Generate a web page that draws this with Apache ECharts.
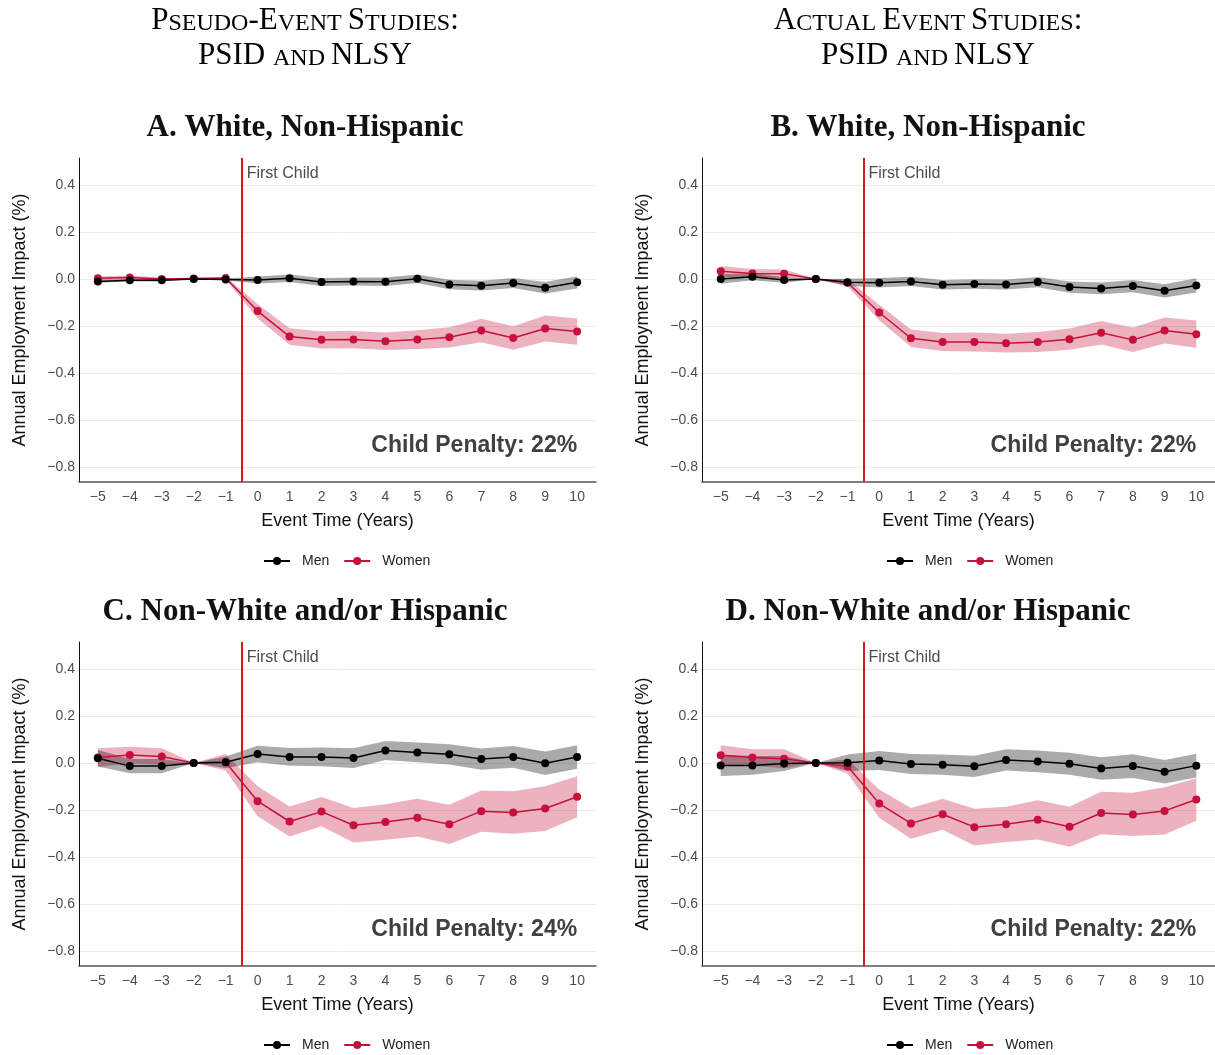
<!DOCTYPE html>
<html>
<head>
<meta charset="utf-8">
<script src="https://cdn.jsdelivr.net/npm/echarts@6/dist/echarts.min.js"></script>
<style>
html, body { margin: 0; padding: 0; background: #fff; }
#chart { width: 1215px; height: 1055px; }
</style>
</head>
<body>
<div id="chart"></div>
<script>
// event time and axis ticks
const eventTime = [-5, -4, -3, -2, -1, 0, 1, 2, 3, 4, 5, 6, 7, 8, 9, 10];
const yTicks = [-0.8, -0.6, -0.4, -0.2, 0, 0.2, 0.4];

// A. White, Non-Hispanic (pseudo)
const menA = [-0.010, -0.005, -0.005, 0.000, -0.002, -0.004, 0.003, -0.013, -0.010, -0.011, 0.001, -0.023, -0.028, -0.017, -0.037, -0.014];
const menCiA = [0.006, 0.005, 0.005, 0, 0.004, 0.015, 0.016, 0.017, 0.017, 0.018, 0.018, 0.020, 0.021, 0.021, 0.024, 0.026];
const womenA = [0.003, 0.007, 0.000, 0.002, 0.004, -0.136, -0.244, -0.258, -0.257, -0.264, -0.257, -0.247, -0.218, -0.250, -0.210, -0.223];
const womenCiA = [0.008, 0.008, 0.006, 0, 0.006, 0.030, 0.035, 0.037, 0.037, 0.037, 0.040, 0.043, 0.050, 0.050, 0.055, 0.056];

// B. White, Non-Hispanic (actual)
const menB = [0.000, 0.010, -0.004, 0.000, -0.014, -0.016, -0.010, -0.024, -0.021, -0.023, -0.013, -0.034, -0.040, -0.030, -0.050, -0.027];
const menCiB = [0.020, 0.015, 0.012, 0, 0.015, 0.020, 0.020, 0.020, 0.020, 0.021, 0.022, 0.024, 0.025, 0.026, 0.028, 0.030];
const womenB = [0.033, 0.023, 0.022, 0.000, -0.016, -0.142, -0.251, -0.267, -0.267, -0.272, -0.267, -0.255, -0.228, -0.258, -0.218, -0.234];
const womenCiB = [0.022, 0.020, 0.018, 0, 0.015, 0.033, 0.037, 0.038, 0.040, 0.040, 0.042, 0.045, 0.050, 0.052, 0.055, 0.058];

// C. Non-White and/or Hispanic (pseudo)
const menC = [0.020, -0.013, -0.013, 0.000, 0.003, 0.038, 0.026, 0.026, 0.021, 0.053, 0.045, 0.037, 0.017, 0.026, -0.001, 0.026];
const menCiC = [0.035, 0.030, 0.030, 0, 0.025, 0.035, 0.038, 0.040, 0.042, 0.040, 0.042, 0.043, 0.045, 0.046, 0.050, 0.050];
const womenC = [0.023, 0.034, 0.028, 0.000, 0.003, -0.162, -0.248, -0.206, -0.264, -0.250, -0.232, -0.260, -0.204, -0.210, -0.193, -0.143];
const womenCiC = [0.040, 0.035, 0.035, 0, 0.035, 0.064, 0.064, 0.062, 0.073, 0.075, 0.080, 0.083, 0.087, 0.090, 0.095, 0.087];

// D. Non-White and/or Hispanic (actual)
const menD = [-0.010, -0.010, -0.002, 0.000, 0.001, 0.011, -0.004, -0.007, -0.014, 0.013, 0.007, -0.003, -0.023, -0.013, -0.037, -0.011];
const menCiD = [0.045, 0.040, 0.032, 0, 0.035, 0.040, 0.042, 0.043, 0.045, 0.045, 0.046, 0.047, 0.048, 0.050, 0.050, 0.050];
const womenD = [0.033, 0.023, 0.018, 0.000, -0.014, -0.172, -0.256, -0.217, -0.272, -0.260, -0.241, -0.270, -0.212, -0.218, -0.203, -0.155];
const womenCiD = [0.042, 0.035, 0.040, 0, 0.030, 0.060, 0.065, 0.066, 0.078, 0.075, 0.083, 0.085, 0.090, 0.092, 0.100, 0.090];

const panelTitles = ['A. White, Non-Hispanic', 'B. White, Non-Hispanic', 'C. Non-White and/or Hispanic', 'D. Non-White and/or Hispanic'];
const penalties = ['22%', '22%', '24%', '22%'];
const firstChildAt = -0.5;

const MEN = '#000000';
const WOMEN = '#c8103c';
const MEN_BAND = 'rgba(0,0,0,0.33)';
const WOMEN_BAND = 'rgba(200,16,60,0.32)';
const SANS = 'Liberation Sans, Arial, sans-serif';
const SERIF = 'Liberation Serif, Times New Roman, serif';

const panels = [
  { men: menA, menCi: menCiA, women: womenA, womenCi: womenCiA, left: 79, top: 158, cx: 305 },
  { men: menB, menCi: menCiB, women: womenB, womenCi: womenCiB, left: 702, top: 158, cx: 928 },
  { men: menC, menCi: menCiC, women: womenC, womenCi: womenCiC, left: 79, top: 642, cx: 305 },
  { men: menD, menCi: menCiD, women: womenD, womenCi: womenCiD, left: 702, top: 642, cx: 928 }
];

const minus = v => String(v).replace('-', '\u2212');

function band(idx, est, ci, color) {
  return {
    type: 'custom',
    xAxisIndex: idx,
    yAxisIndex: idx,
    silent: true,
    z: 1,
    data: eventTime.map((t, i) => [t, est[i] - ci[i], est[i] + ci[i]]),
    encode: { x: 0, y: [1, 2] },
    renderItem: function (params, api) {
      if (params.dataIndex !== 0) return;
      const up = [], lo = [];
      for (let i = 0; i < eventTime.length; i++) {
        up.push(api.coord([eventTime[i], est[i] + ci[i]]));
        lo.push(api.coord([eventTime[i], est[i] - ci[i]]));
      }
      return {
        type: 'polygon',
        shape: { points: up.concat(lo.reverse()) },
        style: { fill: color }
      };
    }
  };
}

function line(idx, name, est, color, withMark) {
  const s = {
    type: 'line',
    name: name,
    xAxisIndex: idx,
    yAxisIndex: idx,
    data: eventTime.map((t, i) => [t, est[i]]),
    symbol: 'circle',
    symbolSize: 8,
    z: 3,
    lineStyle: { color: color, width: 1.5 },
    itemStyle: { color: color },
    emphasis: { disabled: true }
  };
  if (withMark) {
    s.markLine = {
      silent: true,
      symbol: 'none',
      label: { show: false },
      lineStyle: { color: '#d7191c', width: 2, type: 'solid' },
      data: [{ xAxis: firstChildAt }]
    };
  }
  return s;
}

const grids = [], xAxes = [], yAxes = [], series = [], legends = [];
panels.forEach((p, i) => {
  grids.push({ left: p.left, top: p.top, width: 517, height: 324 });
  xAxes.push({
    type: 'value', gridIndex: i, min: -5.59, max: 10.59,
    name: 'Event Time (Years)', nameLocation: 'middle', nameGap: 30,
    nameTextStyle: { color: '#111', fontSize: 18, fontFamily: SANS },
    axisLine: { show: true, onZero: false, lineStyle: { color: '#555', width: 1.6 } },
    axisTick: { show: false, customValues: eventTime },
    axisLabel: { customValues: eventTime, color: '#4d4d4d', fontSize: 14, fontFamily: SANS, margin: 8, formatter: v => minus(v) },
    splitLine: { show: false }
  });
  yAxes.push({
    type: 'value', gridIndex: i, min: -0.861, max: 0.5135,
    name: 'Annual Employment Impact (%)', nameLocation: 'middle', nameGap: 50,
    nameTextStyle: { color: '#111', fontSize: 18, fontFamily: SANS },
    axisLine: { show: true, onZero: false, lineStyle: { color: '#111', width: 1 } },
    axisTick: { show: false, customValues: yTicks },
    axisLabel: { customValues: yTicks, color: '#4d4d4d', fontSize: 14, fontFamily: SANS, margin: 4, formatter: v => minus(v.toFixed(1)) },
    splitLine: { show: true, lineStyle: { color: '#ebebeb', width: 1 } }
  });
  series.push(band(i, p.women, p.womenCi, WOMEN_BAND));
  series.push(band(i, p.men, p.menCi, MEN_BAND));
  series.push(line(i, 'Women', p.women, WOMEN, true));
  series.push(line(i, 'Men', p.men, MEN, false));
  legends.push({
    data: ['Men', 'Women'],
    left: p.left + 179, top: p.top + 391,
    itemWidth: 26, itemHeight: 10, itemGap: 14,
    selectedMode: false,
    textStyle: { color: '#222', fontSize: 14, fontFamily: SANS, padding: [0, 0, 0, 7] }
  });
});

const chart = echarts.init(document.getElementById('chart'), null, { renderer: 'canvas' });
chart.setOption({
  animation: false,
  backgroundColor: '#fff',
  grid: grids,
  xAxis: xAxes,
  yAxis: yAxes,
  legend: legends,
  series: series
});

// headings and annotations
const rich = {
  b: { fontFamily: SERIF, fontSize: 31, color: '#111', verticalAlign: 'bottom', lineHeight: 36 },
  s: { fontFamily: SERIF, fontSize: 24, color: '#111', verticalAlign: 'bottom', lineHeight: 36 }
};
function heading(cx, y, txt) {
  return { type: 'text', x: cx, y: y, style: { text: txt, rich: rich, align: 'center', verticalAlign: 'middle' } };
}
const graphics = [
  heading(305, 18, '{b|P}{s|SEUDO}{b|-E}{s|VENT }{b|S}{s|TUDIES}{b|:}'),
  heading(305, 53, '{b|PSID }{s|AND }{b|NLSY}'),
  heading(928, 18, '{b|A}{s|CTUAL }{b|E}{s|VENT }{b|S}{s|TUDIES}{b|:}'),
  heading(928, 53, '{b|PSID }{s|AND }{b|NLSY}')
];
panels.forEach((p, i) => {
  graphics.push({
    type: 'text', x: p.cx, y: p.top - 30,
    style: { text: panelTitles[i], fontFamily: SERIF, fontWeight: 'bold', fontSize: 31, fill: '#111', align: 'center', verticalAlign: 'middle' }
  });
  const fc = chart.convertToPixel({ gridIndex: i }, [firstChildAt, 0.447]);
  graphics.push({
    type: 'text', x: fc[0] + 5, y: fc[1], z: 10,
    style: { text: 'First Child', fontFamily: SANS, fontSize: 16, fill: '#4d4d4d', align: 'left', verticalAlign: 'middle' }
  });
  const cp = chart.convertToPixel({ gridIndex: i }, [10, -0.705]);
  graphics.push({
    type: 'text', x: cp[0], y: cp[1], z: 10,
    style: { text: 'Child Penalty: ' + penalties[i], fontFamily: SANS, fontWeight: 'bold', fontSize: 23, fill: '#404040', align: 'right', verticalAlign: 'middle' }
  });
});
chart.setOption({ graphic: graphics });
</script>
</body>
</html>
